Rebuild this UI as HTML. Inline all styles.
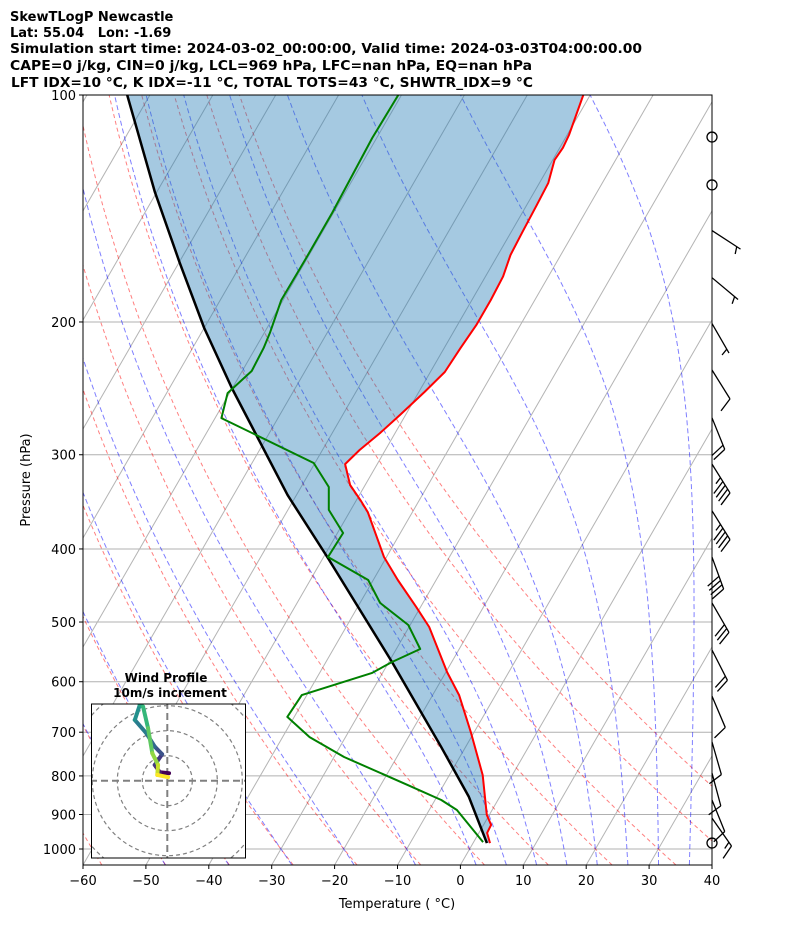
<!DOCTYPE html>
<html><head><meta charset="utf-8"><style>
html,body{margin:0;padding:0;background:#fff;}
svg text{font-family:"DejaVu Sans","Liberation Sans",sans-serif;}
</style></head><body>
<svg id="chart" xmlns="http://www.w3.org/2000/svg" width="794" height="937" viewBox="0 0 794 937">
<g font-weight="bold" font-size="13" fill="#000">
<text x="10" y="21">SkewTLogP Newcastle</text>
<text x="10" y="37" xml:space="preserve">Lat: 55.04   Lon: -1.69</text>
<text x="10" y="53" textLength="632" lengthAdjust="spacingAndGlyphs">Simulation start time: 2024-03-02_00:00:00, Valid time: 2024-03-03T04:00:00.00</text>
<text x="10" y="70" textLength="522" lengthAdjust="spacingAndGlyphs">CAPE=0 j/kg, CIN=0 j/kg, LCL=969 hPa, LFC=nan hPa, EQ=nan hPa</text>
<text x="11" y="87" textLength="522" lengthAdjust="spacingAndGlyphs">LFT IDX=10 °C, K IDX=-11 °C, TOTAL TOTS=43 °C, SHWTR_IDX=9 °C</text>
</g>
<defs><clipPath id="plotclip"><rect x="83" y="95" width="629" height="770"/></clipPath>
<clipPath id="insetclip"><rect x="92" y="704" width="153" height="154"/></clipPath></defs>
<g id="bg" clip-path="url(#plotclip)"></g>
<g id="series" clip-path="url(#plotclip)"></g>
<rect x="83" y="95" width="629" height="770" fill="none" stroke="#000" stroke-width="1"/>
<g id="axes"></g>
<text x="397" y="908" font-size="13" text-anchor="middle">Temperature ( °C)</text>
<text x="30" y="480" font-size="13" text-anchor="middle" transform="rotate(-90 30 480)">Pressure (hPa)</text>
<g id="barbs"></g>
<g id="inset"></g>
</svg>
<script>
// ---- data ----
const tempP = [982,952,929,901,798,702,625,582.7,507.6,477.5,439.8,410,357.4,344.4,329,308.7,295.7,280.7,265.8,247.7,233,216.6,202,187,174,163,152,140,130.8,122,117.5,113,100];
const tempT = [2.7,1.3,1.2,-0.4,-4.7,-10.4,-15.8,-19.8,-26.8,-30.7,-36.1,-40.4,-47.1,-49.4,-52.4,-55.1,-54.1,-52.4,-50.9,-49.1,-47.7,-47.4,-47.0,-47.0,-47.2,-48.0,-48.2,-48.4,-48.6,-49.7,-49.5,-49.7,-51.1];
const dewP = [979,887.6,861,822.7,755,710.6,668,625,584.4,564.9,542.9,504.5,471.7,439.8,410,381,355,331.1,307.7,268.2,248.5,232.3,216.6,206.8,187,164.5,143.4,114,100];
const dewT = [1.5,-5.6,-9.0,-15.7,-28.4,-35.7,-41.1,-40.8,-31.7,-29.5,-26.2,-30.3,-36.8,-40.8,-49.3,-49.1,-53.5,-55.6,-60.2,-79.0,-80.3,-78.5,-78.7,-79.1,-80.3,-80.2,-80.2,-80.7,-80.5];
const parcelP = [982,853,732,564.9,411.3,339.3,282.4,244.7,203.7,166.5,134.5,100];
const parcelT = [2.2,-4.9,-13.9,-29.5,-49.2,-61.4,-71.9,-80.1,-90.0,-100.0,-110.3,-123.6];
const calmP = [113.7,131.6,982];
const barbP = [151.3,174.7,201,231.6,268,308.7,356,410,471.7,544.6,627,721,793,861,910];
const barbDir = [123,130,150,148,158,148,148,160,150,153,157,164,165,158,145];
const barbKt = [5,5,5,10,20,45,45,40,30,20,10,10,10,10,15];
const hodoU = [0.7,-3.0,-5.0,-2.1,-5.0,-8.4,-13.0,-11.0,-9.7,-7.7,-6.0,-3.7,-4.0,0.3];
const hodoV = [3.0,3.4,6.3,10.6,13.6,19.0,24.3,30.3,29.6,21.0,11.0,6.3,2.3,1.4];
const xTicks = [-60,-50,-40,-30,-20,-10,0,10,20,30,40];
const yTicks = [100,200,300,400,500,600,700,800,900,1000];
const moistT0 = [-50,-40,-30,-20,-10,0,5,10,15,20,25,30,35,40,45];
// ---- axes ----
const X0=83,X1=712,Y0=95,Y1=865,TMIN=-60,TMAX=40;
const KX=(X1-X0)/(TMAX-TMIN), SKEW=0.577;
function yP(p){return Y0+754*Math.log10(p/100);}
function xT(T,p){return X0+(T-TMIN)*KX+SKEW*(Y1-yP(p));}
const NS='http://www.w3.org/2000/svg';
function mk(tag,attrs,parent){const e=document.createElementNS(NS,tag);for(const k in attrs)e.setAttribute(k,attrs[k]);parent.appendChild(e);return e;}
const bg=document.getElementById('bg'),series=document.getElementById('series'),axes=document.getElementById('axes');
yTicks.forEach(p=>{const l=mk('line',{x1:X0,x2:X1,y1:yP(p),y2:yP(p),stroke:'#b0b0b0','stroke-width':1},bg);

});
for(let T=-200;T<=40;T+=10){const l=mk('line',{x1:xT(T,1050),y1:yP(1050),x2:xT(T,100),y2:yP(100),stroke:'#b4b4b4','stroke-width':1},bg);

}
function pLevels(){const a=[];for(let p=1050;p>=100;p-=10)a.push(p);return a;}
for(let t0=-60;t0<=50;t0+=10){const pts=pLevels().map(p=>{const T=(t0+273.15)*Math.pow(p/1000,0.2857)-273.15;return xT(T,p).toFixed(1)+','+yP(p).toFixed(1);});
const l=mk('polyline',{points:pts.join(' '),fill:'none',stroke:'rgba(255,0,0,0.5)','stroke-width':1,'stroke-dasharray':'4,3'},bg);

}
function es(Tc){return 6.112*Math.exp(17.67*Tc/(Tc+243.5));}
function dTdp(T,p){const Tc=T-273.15,e=es(Tc),rs=0.622*e/(p-e),Lv=2.501e6,Rd=287.04,Cp=1005.7;
return (Rd*T+Lv*rs)/(p*(Cp+Lv*Lv*rs*0.622/(Rd*T*T)));}
function moist(t0){let T=t0+273.15,p=1000;const up=[[p,T]];while(p>100){const dp=-5;T+=dTdp(T,p)*dp;p+=dp;up.push([p,T]);}
T=t0+273.15;p=1000;const dn=[];while(p<1050){const dp=5;T+=dTdp(T,p)*dp;p+=dp;dn.unshift([p,T]);}
return dn.concat(up);}
moistT0.forEach(t0=>{const pts=moist(t0).map(([p,T])=>xT(T-273.15,p).toFixed(1)+','+yP(p).toFixed(1));
const l=mk('polyline',{points:pts.join(' '),fill:'none',stroke:'rgba(0,0,255,0.5)','stroke-width':1,'stroke-dasharray':'5,3'},bg);

});
{const a=tempP.map((p,i)=>xT(tempT[i],p).toFixed(1)+','+yP(p).toFixed(1));
const b=parcelP.map((p,i)=>xT(parcelT[i],p).toFixed(1)+','+yP(p).toFixed(1)).reverse();
const f=mk('polygon',{points:a.concat(b).join(' '),fill:'rgba(31,119,180,0.4)',stroke:'none'},series);

}
function line(P,T,color,w,name){const pts=P.map((p,i)=>xT(T[i],p).toFixed(1)+','+yP(p).toFixed(1));
const l=mk('polyline',{points:pts.join(' '),fill:'none',stroke:color,'stroke-width':w,'stroke-linejoin':'round'},series);

}
line(parcelP,parcelT,'#000',2.5,'parcel-profile-line');
line(tempP,tempT,'#ff0000',2,'temperature-line');
line(dewP,dewT,'#008000',2,'dewpoint-line');
xTicks.forEach(T=>{const x=X0+(T-TMIN)*KX;mk('line',{x1:x,x2:x,y1:Y1,y2:Y1+4,stroke:'#000'},axes);
const t=mk('text',{x:x,y:Y1+20,'font-size':13,'text-anchor':'middle'},axes);t.textContent=(T<0?'\u2212'+(-T):T);

});
yTicks.forEach(p=>{const y=yP(p);mk('line',{x1:X0-4,x2:X0,y1:y,y2:y,stroke:'#000'},axes);
const t=mk('text',{x:X0-7,y:y+5,'font-size':13,'text-anchor':'end'},axes);t.textContent=p;

});
const barbs=document.getElementById('barbs');
calmP.forEach(p=>{const c=mk('circle',{cx:712,cy:yP(p),r:5,fill:'none',stroke:'#000','stroke-width':1.3},barbs);

});
barbP.forEach((p,i)=>{const ax=712,ay=yP(p),r=barbDir[i]*Math.PI/180,L=34;
const dx=Math.sin(r),dy=-Math.cos(r),px=-dy,py=dx;const ex=ax+dx*L,ey=ay+dy*L;
const g=mk('g',{stroke:'#000','stroke-width':1.3,fill:'none'},barbs);


mk('line',{x1:ax,y1:ay,x2:ex,y2:ey},g);
let kt=Math.round(barbKt[i]/5)*5;let flags=Math.floor(kt/50);kt-=flags*50;let full=Math.floor(kt/10);let half=(kt%10)>=5?1:0;
let pos=0;const step=4.5;
for(let k=0;k<flags;k++){const bx=ex-dx*pos,by=ey-dy*pos;mk('polygon',{points:`${bx},${by} ${bx+px*14+dx*-2},${by+py*14+dy*-2} ${bx-dx*6},${by-dy*6}`,fill:'#000'},g);pos+=7;}
for(let k=0;k<full;k++){const bx=ex-dx*pos,by=ey-dy*pos;mk('line',{x1:bx,y1:by,x2:bx+px*14+dx*5.4,y2:by+py*14+dy*5.4},g);pos+=step;}
if(half){if(pos===0)pos=step;const bx=ex-dx*pos,by=ey-dy*pos;mk('line',{x1:bx,y1:by,x2:bx+px*7+dx*2.7,y2:by+py*7+dy*2.7},g);}
});
const inset=document.getElementById('inset');
const CX=167.3,CY=780.7,KS=2.5;
mk('rect',{x:91.5,y:704,width:154,height:154,fill:'#fff',stroke:'none'},inset);
const ig=mk('g',{'clip-path':'url(#insetclip)'},inset);
[10,20,30,40].forEach(s=>{const c=mk('circle',{cx:CX,cy:CY,r:s*KS,fill:'none',stroke:'#808080','stroke-width':1.2,'stroke-dasharray':'4,3'},ig);

});
mk('line',{x1:90,x2:247,y1:CY,y2:CY,stroke:'#808080','stroke-width':2,'stroke-dasharray':'7,4'},ig);
mk('line',{x1:CX,x2:CX,y1:702,y2:860,stroke:'#808080','stroke-width':2,'stroke-dasharray':'7,4'},ig);
const vir=[[68,1,84],[72,40,120],[62,74,137],[49,104,142],[38,130,142],[31,158,137],[53,183,121],[109,205,89],[180,222,44],[253,231,37]];
function vcol(t){const f=t*(vir.length-1),i=Math.min(Math.floor(f),vir.length-2),u=f-i;const c=vir[i].map((v,j)=>Math.round(v+(vir[i+1][j]-v)*u));return `rgb(${c})`;}
for(let i=0;i<hodoU.length-1;i++){const s=mk('line',{x1:CX+hodoU[i]*KS,y1:CY-hodoV[i]*KS,x2:CX+hodoU[i+1]*KS,y2:CY-hodoV[i+1]*KS,stroke:vcol(i/(hodoU.length-2)),'stroke-width':4,'stroke-linecap':'round'},ig);

}
const fr=mk('rect',{x:91.5,y:704,width:154,height:154,fill:'none',stroke:'#000','stroke-width':1},inset);


const t1=mk('text',{x:166,y:682,'font-size':12,'font-weight':'bold','text-anchor':'middle'},inset);t1.textContent='Wind Profile';


const t2=mk('text',{x:170,y:697,'font-size':12,'font-weight':'bold','text-anchor':'middle'},inset);t2.textContent='10m/s increment';


</script>
</body></html>
